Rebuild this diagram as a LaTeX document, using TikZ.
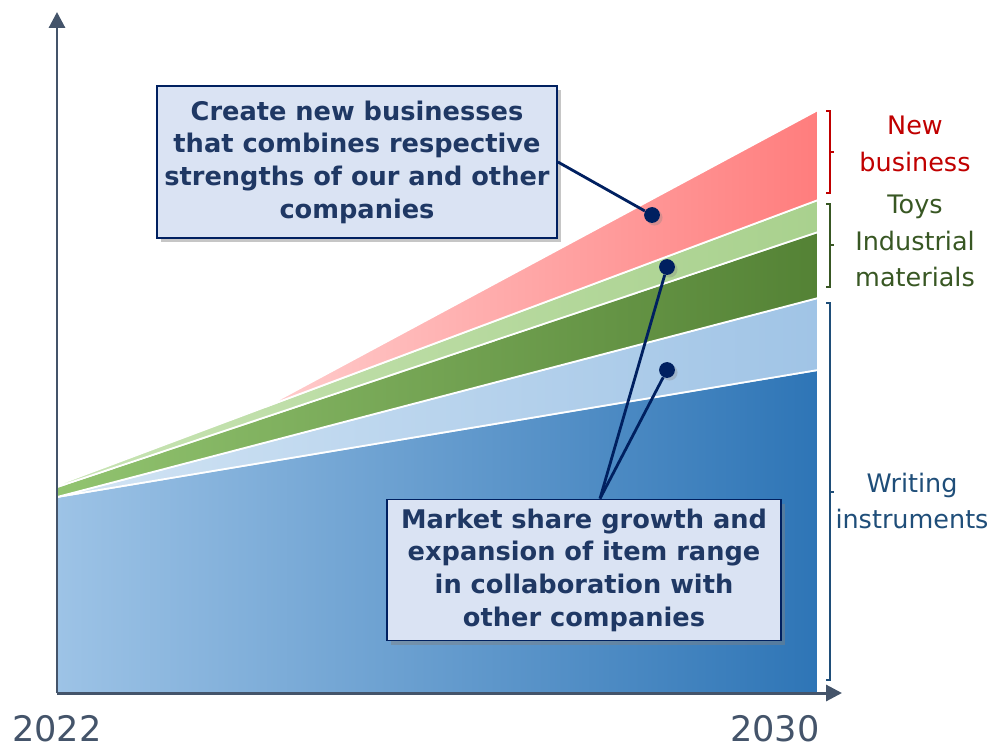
\documentclass[tikz,border=0pt]{standalone}
\usepackage{fontspec}
\setmainfont{DejaVu Sans}
\usetikzlibrary{calc,positioning,shadows,arrows.meta}
\definecolor{axisgray}{RGB}{68,84,106}
\definecolor{navy}{RGB}{0,32,96}
\definecolor{boxtext}{RGB}{31,56,100}
\definecolor{boxfill}{RGB}{218,227,243}
\definecolor{newred}{RGB}{192,0,0}
\definecolor{toygreen}{RGB}{56,87,35}
\definecolor{penblue}{RGB}{31,78,121}

\begin{document}
\begin{tikzpicture}[x=0.02cm,y=-0.02cm,
  band/.style={draw=white,line width=1pt,line join=round},
  callout/.style={draw=navy,line width=1.1pt,fill=boxfill,text=boxtext,align=center,
    font=\fontsize{14.6}{18.6}\selectfont\bfseries,inner sep=0pt,
    drop shadow={shadow xshift=2.5pt,shadow yshift=-2.5pt,opacity=0.45}},
  dot/.style={circle,fill=navy,inner sep=0pt,minimum size=9pt,
    drop shadow={shadow xshift=1.5pt,shadow yshift=-1.5pt,opacity=0.3}},
  conn/.style={navy,line width=1.6pt},
  brace/.style={line width=0.7pt},
  seglabel/.style={align=center,font=\fontsize{14.5}{21}\selectfont},
  year/.style={text=axisgray,font=\fontsize{20}{24}\selectfont,anchor=base,inner sep=0pt}]
\useasboundingbox (0,0) rectangle (990,747);
% stacked areas
\coordinate (O) at (57,693);
\coordinate (R) at (818,693);
\path[band,left color={rgb,255:red,157;green,195;blue,230},right color={rgb,255:red,46;green,117;blue,182}]
  (O)--(57,497)--(818,370)--(R)--cycle;
\path[band,left color={rgb,255:red,210;green,228;blue,244},right color={rgb,255:red,160;green,196;blue,230}]
  (57,497)--(818,298)--(818,370)--cycle;
\path[band,left color={rgb,255:red,146;green,196;blue,112},right color={rgb,255:red,84;green,130;blue,53}]
  (57,487)--(818,232)--(818,298)--(57,497)--cycle;
\path[band,left color={rgb,255:red,200;green,228;blue,180},right color={rgb,255:red,169;green,209;blue,142}]
  (57,485)--(818,200)--(818,232)--(57,487)--cycle;
\path[band,left color={rgb,255:red,255;green,205;blue,205},right color={rgb,255:red,255;green,125;blue,125}]
  (265,407)--(818,110)--(818,200)--cycle;
% axes
\draw[axisgray,line width=1.7pt,-{Triangle[length=9pt,width=9pt]}](O)--(57,12);
\draw[axisgray,line width=1.7pt,-{Triangle[length=9pt,width=9pt]}](O)--(842,693);
\node[year](y0)at(57,741){2022};
\node[year](y1)at(775,741){2030};
% brackets
\draw[brace,newred](826,111)--(830,111)--(830,193)--(826,193) (830,152)--(834,152);
\draw[brace,toygreen](826,204)--(830,204)--(830,287)--(826,287) (830,245)--(834,245);
\draw[brace,penblue](826,303)--(830,303)--(830,680)--(826,680) (830,492)--(834,492);
\node[seglabel,text=newred](nb)at(915,144){New\\business};
\node[seglabel,text=toygreen](ty)at(915,207){Toys};
\node[seglabel,text=toygreen](im)at(915,259){Industrial\\materials};
\node[seglabel,text=penblue](wi)at(912,501){Writing\\instruments};
% callouts
\node[callout,minimum width=8cm,minimum height=3.04cm](b1)at(357,162)
  {Create new businesses\\that combines respective\\strengths of our and other\\companies};
\node[callout,minimum width=7.88cm,minimum height=2.82cm](b2)at(584,570)
  {Market share growth and\\expansion of item range\\in collaboration with\\other companies};
\node[dot](d1)at(652,215){};
\node[dot](d2)at(667,267){};
\node[dot](d3)at(667,370){};
\coordinate(j)at($(b2.north)+(16,0)$);
\draw[conn](b1.east)--(d1);
\draw[conn](j)--(d2);
\draw[conn](j)--(d3);
\end{tikzpicture}
\end{document}
